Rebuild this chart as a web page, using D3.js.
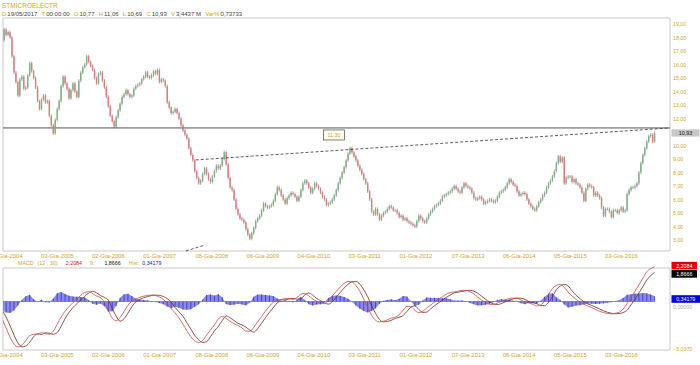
<!DOCTYPE html>
<html><head><meta charset="utf-8">
<script src="https://cdn.jsdelivr.net/npm/d3@7"></script>
<style>
body{margin:0;background:#fff}
svg{display:block}
text{font-family:"Liberation Sans",Arial,sans-serif}
</style>
</head><body>
<svg id="c" width="700" height="365"></svg>
<script>
// ---------------- DATA ----------------
const symbol = "STMICROELECTR";
const headerFields = [["D","19/05/2017"],["T","00:00:00"],["O","10,77"],["H","11,06"],["L","10,69"],["C","10,93"],["V","3,4437 M"],["Var%","0,73733"]];
const startDate = "2004-04-05";       // first candle, one candle every 2 weeks
const firstOpen = 17.5;
const closes = [
17.8,18.6,18.2,18.4,18.0,16.6,15.4,14.7,13.7,14.9,
15.1,14.2,14.3,15.2,16.1,15.5,15.0,14.3,13.3,12.7,
13.4,13.7,13.2,13.3,12.2,11.5,10.9,11.9,12.7,13.3,
14.4,15.1,14.6,14.2,13.5,14.1,14.6,14.0,13.6,14.8,
15.4,15.8,16.0,16.6,16.2,15.9,15.6,15.0,14.6,15.3,
15.4,14.8,14.3,13.6,12.9,12.2,11.8,11.4,12.1,12.6,
13.1,13.6,13.8,14.1,13.8,13.6,13.7,14.2,14.4,14.5,
14.6,14.9,15.1,15.4,15.1,15.0,15.2,15.5,15.3,15.6,
14.7,14.9,14.8,14.4,13.2,12.8,12.4,12.5,12.7,12.4,
12.0,11.5,11.1,10.8,10.5,9.8,9.3,8.9,8.1,7.6,
7.2,7.4,7.9,8.3,7.9,7.5,7.3,7.7,8.1,8.5,
8.3,8.5,9.0,9.5,8.6,7.6,6.9,6.7,6.0,5.3,
4.9,4.6,4.5,4.3,3.8,3.4,3.1,3.5,3.9,4.4,
4.6,4.8,5.2,5.7,5.5,5.4,5.5,5.6,5.9,6.4,
6.9,6.7,6.3,6.0,5.7,6.1,6.3,6.5,6.4,6.2,
5.9,6.2,6.7,7.2,7.4,7.2,6.9,6.5,6.8,7.2,
7.0,6.8,6.5,6.2,6.0,5.6,5.7,5.8,6.0,6.3,
6.7,7.2,7.6,8.0,8.4,8.9,9.4,9.8,9.5,9.2,
8.9,8.5,8.2,7.9,7.5,7.2,6.6,6.0,5.1,4.9,
5.3,4.9,4.5,4.8,5.0,5.1,5.3,5.5,5.4,5.2,
5.2,5.0,4.7,4.8,4.5,4.6,4.4,4.3,4.2,4.1,
4.0,4.4,4.8,4.6,4.4,4.3,4.6,4.9,5.1,5.3,
5.5,5.6,5.7,5.9,6.2,6.3,6.4,6.5,6.6,6.8,
7.0,6.8,6.6,6.5,6.9,7.2,7.0,6.9,6.8,6.5,
6.1,6.0,6.1,6.2,6.0,5.7,5.8,5.9,6.0,5.9,
5.8,5.9,6.2,6.5,6.6,6.7,6.9,7.2,7.5,7.3,
7.1,7.0,6.6,6.3,6.4,6.5,6.4,6.0,5.7,5.5,
5.3,5.2,5.5,5.8,6.0,6.3,6.5,6.9,7.2,7.4,
7.7,8.1,8.7,9.2,8.8,9.1,7.2,7.6,7.7,7.7,
7.3,7.5,7.2,7.1,6.9,6.5,5.9,6.8,7.1,7.0,
6.9,6.3,6.5,6.3,6.1,5.4,4.8,5.3,5.3,5.1,
4.7,5.2,5.2,5.0,5.2,5.4,5.1,5.2,6.4,6.7,
6.9,6.9,7.0,7.2,8.0,8.7,9.3,9.8,10.3,10.7,
10.8,10.3,10.93
];
// MACD (12,30) and signal (9), one value every 4 weeks from startDate
const macdValues = [
-1.12,-1.7,-2.28,-2.72,-2.9,-2.8,-2.51,-2.18,-2.1,-2.08,
-2.0,-2.05,-2.09,-1.9,-1.46,-0.99,-0.62,-0.33,-0.07,0.17,
0.39,0.58,0.63,0.51,0.35,0.25,-0.04,-0.57,-1.06,-1.23,
-1.02,-0.64,-0.24,0.02,0.16,0.26,0.34,0.39,0.41,0.38,
0.29,0.14,-0.14,-0.46,-0.73,-1.06,-1.46,-1.88,-2.25,-2.51,
-2.63,-2.5,-2.15,-1.81,-1.5,-1.12,-0.95,-1.09,-1.27,-1.42,
-1.54,-1.69,-1.89,-1.91,-1.65,-1.3,-0.95,-0.61,-0.3,-0.03,
0.1,0.13,0.18,0.19,0.14,0.25,0.47,0.52,0.36,0.16,
0.01,-0.13,-0.14,0.06,0.35,0.65,0.93,1.15,1.28,1.25,
1.02,0.65,0.15,-0.4,-0.88,-1.2,-1.3,-1.26,-1.17,-1.06,
-1.0,-0.84,-0.55,-0.31,-0.34,-0.57,-0.71,-0.63,-0.42,-0.23,
-0.04,0.14,0.3,0.46,0.57,0.61,0.66,0.71,0.71,0.63,
0.48,0.28,0.09,-0.07,-0.18,-0.19,-0.1,0.01,0.11,0.19,
0.22,0.2,0.1,-0.03,-0.09,-0.18,-0.28,-0.22,0.03,0.44,
0.83,1.03,1.09,0.91,0.6,0.35,0.14,-0.05,-0.18,-0.28,
-0.39,-0.52,-0.63,-0.71,-0.77,-0.79,-0.75,-0.69,-0.48,-0.13,
0.25,0.65,1.06,1.49,1.9,2.1,2.2084
];
const signalValues = [
-0.55,-0.99,-1.55,-2.14,-2.64,-2.9,-2.85,-2.61,-2.25,-2.07,
-2.11,-2.0,-2.03,-2.09,-1.99,-1.59,-1.1,-0.7,-0.39,-0.14,
0.11,0.33,0.54,0.65,0.56,0.38,0.27,0.09,-0.43,-0.94,
-1.26,-1.1,-0.74,-0.33,-0.02,0.13,0.24,0.32,0.38,0.41,
0.39,0.32,0.18,-0.04,-0.39,-0.66,-0.95,-1.36,-1.76,-2.17,
-2.45,-2.62,-2.57,-2.25,-1.88,-1.59,-1.22,-0.92,-1.04,-1.22,
-1.39,-1.5,-1.64,-1.83,-1.96,-1.74,-1.39,-1.03,-0.69,-0.38,
-0.09,0.1,0.11,0.16,0.2,0.15,0.18,0.42,0.54,0.41,
0.2,0.05,-0.09,-0.17,-0.01,0.27,0.57,0.86,1.1,1.26,
1.28,1.11,0.75,0.3,-0.27,-0.76,-1.15,-1.3,-1.27,-1.2,
-1.08,-1.01,-0.9,-0.63,-0.36,-0.28,-0.51,-0.7,-0.68,-0.47,
-0.27,-0.09,0.09,0.26,0.42,0.55,0.6,0.64,0.69,0.72,
0.66,0.53,0.33,0.14,-0.03,-0.15,-0.2,-0.13,-0.02,0.08,
0.17,0.22,0.21,0.14,0.0,-0.08,-0.14,-0.26,-0.27,-0.05,
0.3,0.76,0.99,1.1,0.99,0.68,0.4,0.19,-0.01,-0.15,
-0.25,-0.36,-0.48,-0.6,-0.69,-0.75,-0.78,-0.77,-0.7,-0.56,
-0.21,0.15,0.55,0.95,1.38,1.65,1.8666
];
const macdLegend = {name:"MACD", params:"(12 , 30):", macd:"2,2084", sigName:"9:", signal:"1,8666", histName:"Hist:", hist:"0,34179"};
const lastClose = 10.93;
const lastMacd = 2.2084, lastSignal = 1.8666, lastHist = 0.34179;
const macdMin = -3.037;
// 11,00 is hidden behind the last-price tag in the reference
const yTicks = [19,18,17,16,15,14,13,12,10,9,8,7,6,5,4,3];
const xTickDates = ["2004-01-05","2005-01-03","2006-01-02","2007-01-01","2008-01-08","2009-01-06","2010-01-04","2011-01-03","2012-01-01","2013-01-07","2014-01-06","2015-01-05","2016-01-04"];
const xTickLabels = ["05-Gia-2004","03-Gia-2005","02-Gia-2006","01-Gia-2007","08-Gia-2008","06-Gia-2009","04-Gia-2010","03-Gia-2011","01-Gia-2012","07-Gia-2013","06-Gia-2014","05-Gia-2015","03-Gia-2016"];
const levelValue = 11.30, levelLabel = "11,30", levelLabelDate = "2010-07-12";
const trendLine = [{date:"2008-01-14", v:8.93}, {date:"2017-04-10", v:11.30}];
const trendLine2 = [{date:"2007-11-05", v:2.19}, {date:"2008-03-17", v:2.62}];

// ---------------- CHART ----------------
const svg = d3.select("#c");
const gold = "#d2a52a";
const frame = "#c9c9c9";
const parse = d3.timeParse("%Y-%m-%d");
const t0 = parse(startDate);
const P = {l:3, r:670, t:18, b:251};
const M = {l:3, r:670, t:268, b:350};

const x = d3.scaleTime().domain([parse("2005-01-03"), parse("2016-01-04")]).range([40.5, 604.5]);
const y = d3.scaleLinear().domain([3,19]).range([240,24]);
const ym = d3.scaleLinear().domain([macdMin,0]).range([349,301.5]);
const fmt2 = v => d3.format(".2f")(v).replace(".", ",");

const candles = closes.map((c,i)=>({date:d3.timeDay.offset(t0,14*i), open: i? closes[i-1] : firstOpen, close:c}));
const macd = macdValues.map((m,j)=>({date:d3.timeDay.offset(t0,28*j), m, s:signalValues[j], h:m-signalValues[j]}));

const defs = svg.append("defs");
defs.append("clipPath").attr("id","cp").append("rect").attr("x",P.l).attr("y",P.t).attr("width",P.r-P.l).attr("height",P.b-P.t);
defs.append("clipPath").attr("id","cm").append("rect").attr("x",M.l).attr("y",M.t-6).attr("width",M.r-M.l).attr("height",M.b-M.t+6);

// header
svg.append("text").attr("x",2).attr("y",7.5).attr("font-size",6.5).attr("fill","#e6a10a").text(symbol);
const ht = svg.append("text").attr("x",2).attr("y",15.5).attr("font-size",6);
headerFields.forEach((f,i)=>{
  ht.append("tspan").attr("dx", i? 4.2:0).attr("fill",gold).text(f[0]);
  ht.append("tspan").attr("dx",1).attr("fill","#444").text(f[1]);
});

// frames
svg.append("path").attr("d",`M${P.l},${P.b}V${P.t}H${P.r}V${P.b}H${P.l}`).attr("fill","none").attr("stroke",frame).attr("stroke-width",1);
svg.append("path").attr("d",`M${M.l},${M.b}V${M.t}H${M.r}V${M.b}H${M.l}`).attr("fill","none").attr("stroke",frame).attr("stroke-width",1);

// level line
svg.append("line").attr("x1",P.l).attr("x2",P.r).attr("y1",y(levelValue)).attr("y2",y(levelValue)).attr("stroke","#555").attr("stroke-width",1);

// candles
const gC = svg.append("g").attr("clip-path","url(#cp)");
const bw = 1.4;
gC.selectAll("line.w").data(candles).join("line").attr("class","w")
  .attr("x1",d=>x(d.date)).attr("x2",d=>x(d.date))
  .attr("y1",d=>y(Math.max(d.open,d.close))-1.6).attr("y2",d=>y(Math.min(d.open,d.close))+1.6)
  .attr("stroke","#5a5a5a").attr("stroke-width",0.5);
gC.selectAll("rect.b").data(candles).join("rect").attr("class","b")
  .attr("x",d=>x(d.date)-bw/2).attr("width",bw)
  .attr("y",d=>y(Math.max(d.open,d.close)))
  .attr("height",d=>Math.max(0.9,Math.abs(y(d.open)-y(d.close))))
  .attr("fill",d=>d.close>=d.open?"#7fb07f":"#dd7b7b");

// trend lines
const tl = d3.line().x(d=>x(parse(d.date))).y(d=>y(d.v));
gC.append("path").attr("d",tl(trendLine)).attr("fill","none").attr("stroke","#333").attr("stroke-width",0.8).attr("stroke-dasharray","3,2");
svg.append("path").attr("d",tl(trendLine2)).attr("fill","none").attr("stroke","#333").attr("stroke-width",0.8).attr("stroke-dasharray","3,2");

// level label box
const lx = x(parse(levelLabelDate)), ly = y(levelValue);
svg.append("rect").attr("x",lx).attr("y",ly+2).attr("width",21).attr("height",10).attr("fill","#fff").attr("stroke","#6b6040").attr("stroke-width",0.8);
svg.append("text").attr("x",lx+10.5).attr("y",ly+9).attr("text-anchor","middle").attr("font-size",5.3).attr("fill",gold).text(levelLabel);

// y axis (price)
const ya = svg.append("g").attr("transform",`translate(${P.r},0)`)
  .call(d3.axisRight(y).tickValues(yTicks).tickSize(0).tickPadding(3).tickFormat(fmt2));
ya.select(".domain").remove();
ya.selectAll("text").attr("font-size",5.3).attr("fill",gold).attr("font-family",null);

// last price box
svg.append("rect").attr("x",P.r+1.5).attr("y",y(lastClose)-3.6).attr("width",28).attr("height",7.2).attr("fill","#c8c8c8");
svg.append("text").attr("x",P.r+15.5).attr("y",y(lastClose)+1.9).attr("text-anchor","middle").attr("font-size",5.3).attr("fill","#111").text(fmt2(lastClose));

// x axes
function xAxis(yPos){
  const g = svg.append("g").attr("transform",`translate(0,${yPos})`)
    .call(d3.axisBottom(x).tickValues(xTickDates.map(parse)).tickSize(0).tickPadding(3).tickFormat((d,i)=>xTickLabels[i]));
  g.select(".domain").remove();
  g.selectAll("text").attr("text-anchor","start").attr("font-size",5.9).attr("fill",gold).attr("font-family",null);
}
xAxis(P.b);
xAxis(M.b);

// MACD legend
const ml = svg.append("text").attr("x",18).attr("y",264.8).attr("font-size",5.3);
ml.append("tspan").attr("fill",gold).text(macdLegend.name);
ml.append("tspan").attr("dx",4).attr("fill",gold).text(macdLegend.params);
ml.append("tspan").attr("dx",7).attr("fill","#d01010").text(macdLegend.macd);
ml.append("tspan").attr("dx",8).attr("fill",gold).text(macdLegend.sigName);
ml.append("tspan").attr("dx",10).attr("fill","#111").text(macdLegend.signal);
ml.append("tspan").attr("dx",8).attr("fill",gold).text(macdLegend.histName);
ml.append("tspan").attr("dx",3).attr("fill","#1a1aa0").text(macdLegend.hist);

// MACD panel
const gM = svg.append("g").attr("clip-path","url(#cm)");
gM.append("path").datum(macd)
  .attr("d",d3.area().x(d=>x(d.date)).y0(ym(0)).y1(d=>ym(d.h)))
  .attr("fill","#8a8aee");
gM.selectAll("line.h").data(macd).join("line").attr("class","h")
  .attr("x1",d=>x(d.date)).attr("x2",d=>x(d.date)).attr("y1",ym(0)).attr("y2",d=>ym(d.h))
  .attr("stroke","#2b2b9c").attr("stroke-width",0.7);
gM.append("line").attr("x1",x(macd[0].date)).attr("x2",x(macd[macd.length-1].date)).attr("y1",ym(0)).attr("y2",ym(0)).attr("stroke","#5555c8").attr("stroke-width",0.6);
gM.append("path").datum(macd).attr("d",d3.line().curve(d3.curveMonotoneX).x(d=>x(d.date)).y(d=>ym(d.s)))
  .attr("fill","none").attr("stroke","#6a3020").attr("stroke-width",0.8);
gM.append("path").datum(macd).attr("d",d3.line().curve(d3.curveMonotoneX).x(d=>x(d.date)).y(d=>ym(d.m)))
  .attr("fill","none").attr("stroke","#d04848").attr("stroke-width",0.8);

// MACD right labels
svg.append("text").attr("x",P.r+3).attr("y",ym(0)+7.3).attr("font-size",5.3).attr("fill","#aaa").text(d3.format(".5f")(0).replace(".", ","));
function tag(v, yy, fill, w){
  svg.append("rect").attr("x",P.r+1.5).attr("y",yy-3.8).attr("width",w).attr("height",7.6).attr("fill",fill);
  svg.append("text").attr("x",P.r+1.5+w/2).attr("y",yy+1.9).attr("text-anchor","middle").attr("font-size",5.3).attr("fill","#fff").text(v);
}
tag(macdLegend.macd, ym(lastMacd)-1.3, "#e80000", 25.5);
tag(macdLegend.signal, ym(lastSignal)+1.6, "#000", 25.5);
tag(macdLegend.hist, ym(0)-2.5, "#0000e0", 28.5);
svg.append("text").attr("x",P.r+3).attr("y",ym(macdMin)+1.9).attr("font-size",5.3).attr("fill",gold).text(d3.format(".4f")(macdMin).replace(".", ","));
</script>
</body></html>
